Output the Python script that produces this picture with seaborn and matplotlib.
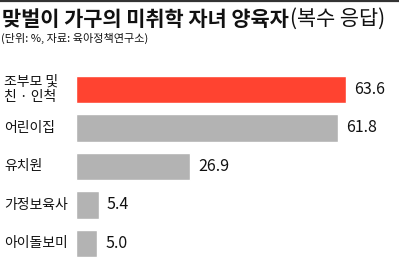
import matplotlib
matplotlib.use("Agg")
import matplotlib.pyplot as plt
import matplotlib.transforms as mtrans
import seaborn as sns
import pandas as pd

categories = ["조부모 및\n친 · 인척", "어린이집", "유치원", "가정보육사", "아이돌보미"]
values = [63.6, 61.8, 26.9, 5.4, 5.0]
value_labels = ["63.6", "61.8", "26.9", "5.4", "5.0"]
bar_colors = ["#FF4330", "#B3B3B3", "#B3B3B3", "#B3B3B3", "#B3B3B3"]
title_bold = "맞벌이 가구의 미취학 자녀 양육자"
title_regular = "(복수 응답)"
subtitle = "(단위: %, 자료: 육아정책연구소)"

sns.set_theme(style="white")
plt.rcParams['font.family'] = ['Noto Sans CJK KR', 'DejaVu Sans']

W, H = 399, 263
fig = plt.figure(figsize=(W / 100, H / 100), dpi=100)
fig.patch.set_facecolor("white")

# top rule
fig.add_artist(plt.Line2D([0, 1], [1 - 1 / H, 1 - 1 / H], color="#333333", lw=1.6))

df = pd.DataFrame({"cat": categories, "val": values})

ax_left = 76 / W
ax_w = (W - 76) / W
ax_top = 70.3
ax_bot = 262.5
ax = fig.add_axes([ax_left, 1 - ax_bot / H, ax_w, (ax_bot - ax_top) / H])
sns.barplot(data=df, x="val", y="cat", hue="cat", palette=bar_colors,
            legend=False, width=0.715, orient="h", ax=ax, saturation=1)
ax.set_xlim(0, (W - 76) / 4.24)
ax.set_ylim(4.5, -0.5)
ax.set_xlabel("")
ax.set_ylabel("")
ax.set_xticks([])
ax.set_yticks([])
for s in ax.spines.values():
    s.set_visible(False)
ax.patch.set_alpha(0)

for i, (v, lab) in enumerate(zip(values, value_labels)):
    ax.text(v + 1.9, i, lab, va="center", ha="left", fontsize=11.5,
            color="#111111")

trans = mtrans.blended_transform_factory(fig.transFigure, ax.transData)
for i, c in enumerate(categories):
    ax.text(4 / W, i, c, transform=trans, va="center", ha="left",
            fontsize=10, color="#111111", linespacing=1.15)

t1 = fig.text(2 / W, 1 - 19 / H, title_bold, fontsize=15, fontweight="bold",
              va="center", ha="left", color="#111111")
fig.canvas.draw()
bb = t1.get_window_extent()
fig.text((bb.x1 + 1) / W, 1 - 19 / H, title_regular, fontsize=15,
         va="center", ha="left", color="#111111")
fig.text(1 / W, 1 - 38 / H, subtitle, fontsize=8, va="center", ha="left",
         color="#111111")

fig.savefig("out.png", dpi=100, facecolor="white")
